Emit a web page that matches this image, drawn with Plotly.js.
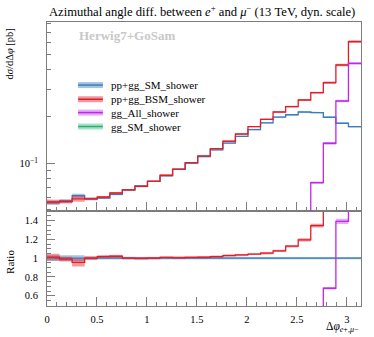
<!DOCTYPE html>
<html>
<head>
<meta charset="utf-8">
<script src="https://cdn.plot.ly/plotly-3.0.1.min.js"></script>
<style>
html, body { margin: 0; padding: 0; background: #fff; }
#plot { width: 374px; height: 337px; }
</style>
</head>
<body>
<div id="plot"></div>
<script>
// Delta phi between e+ and mu-, 25 bins from 0 to pi
// main panel: dsigma/dDeltaphi (log), lower panel: ratio to pp+gg_SM_shower

var nBins = 25;
var binWidth = Math.PI / nBins;
var edges = [];
for (var i = 0; i <= nBins; i++) edges.push(i * binWidth);

var seriesNames = ['pp+gg_SM_shower', 'pp+gg_BSM_shower', 'gg_All_shower', 'gg_SM_shower'];

// values [pb]
var ppSM = [0.0557, 0.0571, 0.0618, 0.0590, 0.0596, 0.0630, 0.0673, 0.0714, 0.0765, 0.0830,
            0.0914, 0.1001, 0.1104, 0.1221, 0.1349, 0.1493, 0.1651, 0.1825, 0.1988, 0.2056,
            0.2143, 0.2120, 0.1981, 0.1812, 0.1722];
var ppBSM = [0.0563, 0.0565, 0.0590, 0.0590, 0.0606, 0.0643, 0.0673, 0.0710, 0.0765, 0.0837,
             0.0916, 0.1009, 0.1115, 0.1242, 0.1387, 0.1545, 0.1722, 0.1922, 0.2143, 0.2319,
             0.2561, 0.2855, 0.3311, 0.4307, 0.6089];
var ggAll = [0.0021, 0.0022, 0.0020, 0.0023, 0.0022, 0.0024, 0.0025, 0.0026, 0.0027, 0.0029,
             0.0030, 0.0032, 0.0034, 0.0036, 0.0039, 0.0043, 0.0048, 0.0055, 0.0068, 0.0095,
             0.0210, 0.0749, 0.1346, 0.2523, 0.4417];
var ggSM = [0.0019, 0.0020, 0.0019, 0.0021, 0.0021, 0.0022, 0.0023, 0.0024, 0.0025, 0.0026,
            0.0027, 0.0028, 0.0030, 0.0031, 0.0033, 0.0035, 0.0037, 0.0040, 0.0042, 0.0045,
            0.0048, 0.0051, 0.0054, 0.0057, 0.0060];

// relative uncertainties (half width of the bands)
var ppSMerr = [0.030, 0.025, 0.030, 0.015, 0.012, 0.012, 0.012, 0.012, 0.012, 0.012,
               0.010, 0.010, 0.010, 0.010, 0.010, 0.010, 0.012, 0.012, 0.012, 0.012,
               0.012, 0.012, 0.012, 0.012, 0.012];
var ppBSMerr = [0.035, 0.025, 0.045, 0.020, 0.015, 0.015, 0.012, 0.012, 0.012, 0.010,
                0.010, 0.010, 0.010, 0.010, 0.010, 0.010, 0.010, 0.012, 0.012, 0.012,
                0.015, 0.015, 0.018, 0.020, 0.020];
var ggAllerr = [0.03, 0.03, 0.03, 0.03, 0.03, 0.03, 0.03, 0.03, 0.03, 0.03,
                0.03, 0.03, 0.03, 0.03, 0.03, 0.03, 0.03, 0.03, 0.03, 0.03,
                0.03, 0.02, 0.02, 0.02, 0.02];
var ggSMerr = [0.03, 0.03, 0.03, 0.03, 0.03, 0.03, 0.03, 0.03, 0.03, 0.03,
               0.03, 0.03, 0.03, 0.03, 0.03, 0.03, 0.03, 0.03, 0.03, 0.03,
               0.03, 0.03, 0.03, 0.03, 0.03];

var xTickVals = [0, 0.5, 1, 1.5, 2, 2.5, 3];
var xTickText = ['0', '0.5', '1', '1.5', '2', '2.5', '3'];
var ratioTickVals = [0.6, 0.8, 1, 1.2, 1.4];
var ratioTickText = ['0.6', '0.8', '1', '1.2', '1.4'];

var lineColors = ['rgb(58,125,190)', 'rgb(225,30,40)', 'rgb(190,40,235)', 'rgb(40,175,115)'];
var bandColors = ['rgba(58,125,190,0.45)', 'rgba(225,30,40,0.45)', 'rgba(190,40,235,0.4)', 'rgba(40,175,115,0.4)'];

var FONT = 'Liberation Serif, Times New Roman, serif';
var GRAY = 'rgb(125,125,125)';

function stepTrace(vals, color, xa, ya) {
    var x = [], y = [];
    for (var i = 0; i < vals.length; i++) { x.push(edges[i]); y.push(vals[i]); }
    x.push(edges[vals.length]); y.push(vals[vals.length - 1]);
    return {x: x, y: y, xaxis: xa, yaxis: ya, type: 'scatter', mode: 'lines',
            line: {shape: 'hv', color: color, width: 1.3}, showlegend: false, hoverinfo: 'skip'};
}

function bandTrace(vals, errs, color, xa, ya) {
    var x = [], y = [];
    for (var i = 0; i < vals.length; i++) {
        x.push(edges[i], edges[i + 1]);
        y.push(vals[i] * (1 + errs[i]), vals[i] * (1 + errs[i]));
    }
    for (var j = vals.length - 1; j >= 0; j--) {
        x.push(edges[j + 1], edges[j]);
        y.push(vals[j] * (1 - errs[j]), vals[j] * (1 - errs[j]));
    }
    return {x: x, y: y, xaxis: xa, yaxis: ya, type: 'scatter', mode: 'lines',
            fill: 'toself', fillcolor: color, line: {width: 0}, showlegend: false, hoverinfo: 'skip'};
}

var allVals = [ppSM, ppBSM, ggAll, ggSM];
var allErrs = [ppSMerr, ppBSMerr, ggAllerr, ggSMerr];

var data = [];
// main panel
for (var s = 0; s < allVals.length; s++) {
    data.push(bandTrace(allVals[s], allErrs[s], bandColors[s], 'x2', 'y'));
    data.push(stepTrace(allVals[s], lineColors[s], 'x2', 'y'));
}
// ratio panel, everything divided by pp+gg_SM_shower
for (var s = 0; s < allVals.length; s++) {
    var r = allVals[s].map(function (v, k) { return v / ppSM[k]; });
    data.push(bandTrace(r, allErrs[s], bandColors[s], 'x', 'y2'));
    data.push(stepTrace(r, lineColors[s], 'x', 'y2'));
}

// plot area is 314 x 284 px
var pxY = 1 / 284;
var split = 95 * pxY;

// hand drawn legend (band + line like in the rivet plot)
var shapes = [], annotations = [];
var legY = [0.778, 0.728, 0.681, 0.632];
for (var s = 0; s < seriesNames.length; s++) {
    shapes.push({type: 'rect', xref: 'paper', yref: 'paper', x0: 0.099, x1: 0.178,
                 y0: legY[s] - 3 * pxY, y1: legY[s] + 3 * pxY,
                 fillcolor: bandColors[s], line: {width: 0}});
    shapes.push({type: 'line', xref: 'paper', yref: 'paper', x0: 0.099, x1: 0.178,
                 y0: legY[s], y1: legY[s], line: {color: lineColors[s], width: 1.5}});
    annotations.push({xref: 'paper', yref: 'paper', x: 0.197, y: legY[s], xanchor: 'left', yanchor: 'middle',
                      text: seriesNames[s], showarrow: false, font: {family: FONT, size: 11, color: '#000'}});
}

annotations.push(
    {xref: 'paper', yref: 'paper', x: 0, y: 1 + 11 * pxY, xanchor: 'left', yanchor: 'middle', showarrow: false,
     text: 'Azimuthal angle diff. between <i>e</i><sup>+</sup> and <i>μ</i><sup>−</sup> (13 TeV, dyn. scale)',
     font: {family: FONT, size: 12.6, color: '#000'}},
    {xref: 'paper', yref: 'paper', x: 0.097, y: 1 - 13 * pxY, xanchor: 'left', yanchor: 'middle', showarrow: false,
     text: '<b>Herwig7+GoSam</b>', font: {family: FONT, size: 13, color: 'rgb(200,200,200)'}},
    {xref: 'paper', yref: 'paper', x: -0.118, y: 1 - 4 * pxY, xanchor: 'center', yanchor: 'top', showarrow: false,
     textangle: -90, text: 'd<i>σ</i>/dΔ<i>φ</i> [pb]', font: {family: FONT, size: 10.5, color: '#000'}},
    {xref: 'paper', yref: 'paper', x: -0.118, y: 44 * pxY, xanchor: 'center', yanchor: 'middle', showarrow: false,
     textangle: -90, text: 'Ratio', font: {family: FONT, size: 11, color: '#000'}},
    {xref: 'paper', yref: 'paper', x: 1, y: -21 * pxY, xanchor: 'right', yanchor: 'middle', showarrow: false,
     text: 'Δ<i>φ</i><sub><i>e</i>+,<i>μ</i>−</sub>', font: {family: FONT, size: 11.5, color: '#000'}}
);

var xCommon = {
    range: [0, Math.PI], showgrid: false, zeroline: false,
    showline: true, mirror: true, linecolor: GRAY, linewidth: 1,
    ticks: 'inside', ticklen: 9, tickcolor: GRAY, tickwidth: 1,
    tickmode: 'array', tickvals: xTickVals, ticktext: xTickText,
    minor: {dtick: 0.1, tick0: 0, ticks: 'inside', ticklen: 4, tickcolor: GRAY}
};

var layout = {
    width: 374, height: 337,
    margin: {l: 47, r: 13, t: 22, b: 31},
    paper_bgcolor: '#fff', plot_bgcolor: '#fff',
    font: {family: FONT, size: 10.5, color: '#000'},
    showlegend: false,
    xaxis: Object.assign({}, xCommon, {anchor: 'y2', showticklabels: true, ticklabelstandoff: 3}),
    xaxis2: Object.assign({}, xCommon, {anchor: 'y', matches: 'x', showticklabels: false}),
    yaxis: {
        domain: [split, 1], type: 'log', range: [Math.log10(0.0492), Math.log10(0.816)],
        showgrid: false, zeroline: false, showline: true, mirror: true, linecolor: GRAY,
        ticks: 'inside', ticklen: 8, tickcolor: GRAY,
        tickmode: 'array', tickvals: [0.1], ticktext: ['10<sup>−1</sup>'], ticklabelstandoff: 6,
        minor: {tickmode: 'array', tickvals: [0.05, 0.06, 0.07, 0.08, 0.09, 0.2, 0.3, 0.4, 0.5, 0.6, 0.7, 0.8],
                ticks: 'inside', ticklen: 4, tickcolor: GRAY}
    },
    yaxis2: {
        domain: [0, split], range: [0.49, 1.503],
        showgrid: false, zeroline: false, showline: true, mirror: true, linecolor: GRAY,
        ticks: 'inside', ticklen: 8, tickcolor: GRAY,
        tickmode: 'array', tickvals: ratioTickVals, ticktext: ratioTickText, ticklabelstandoff: 6,
        minor: {dtick: 0.05, tick0: 0, ticks: 'inside', ticklen: 4, tickcolor: GRAY}
    },
    shapes: shapes,
    annotations: annotations
};

Plotly.newPlot('plot', data, layout, {displayModeBar: false, staticPlot: true});
</script>
</body>
</html>
